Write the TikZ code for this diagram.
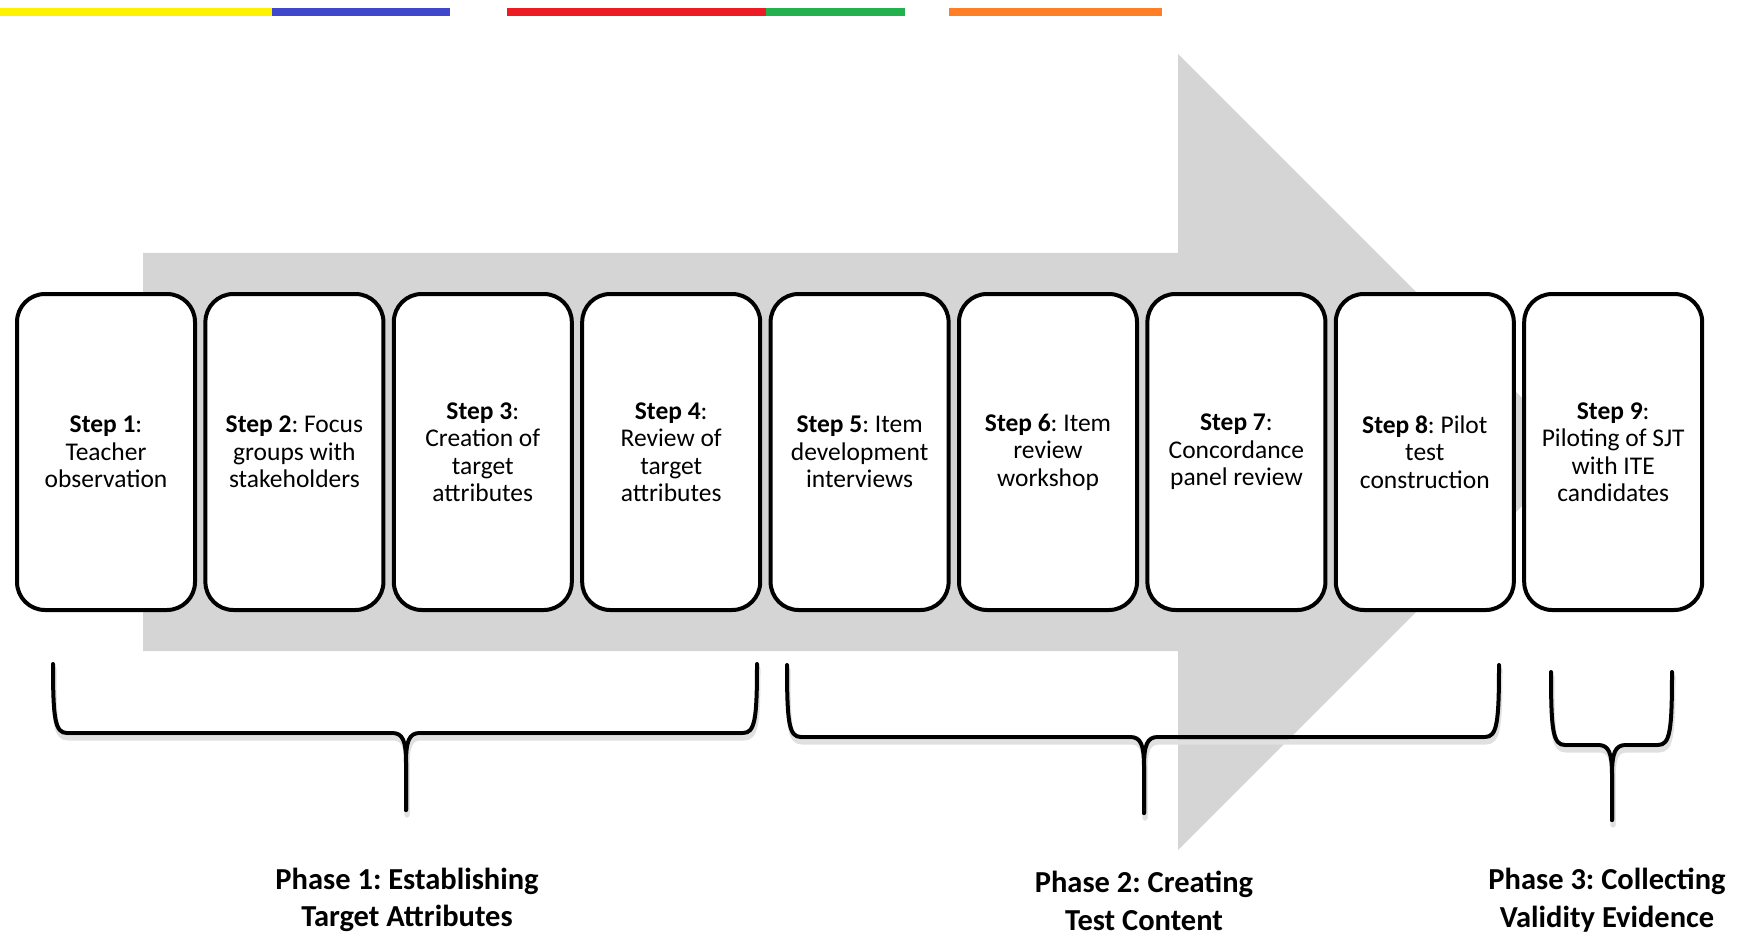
\documentclass[tikz,border=0pt]{standalone}
\usepackage{fontspec}
\setmainfont{Carlito}
\frenchspacing
\definecolor{cyel}{HTML}{FFF200}
\definecolor{cblue}{HTML}{3F48CC}
\definecolor{cred}{HTML}{ED1C24}
\definecolor{cgreen}{HTML}{22B14C}
\definecolor{corange}{HTML}{FF7F27}
\definecolor{arrowgray}{HTML}{D5D5D5}
\tikzset{
  stepbox/.style={draw=black, line width=4pt, fill=white, rounded corners=28pt,
    minimum width=178pt, minimum height=316pt, align=center, inner sep=0pt,
    font=\fontsize{25.5}{27.5}\selectfont},
  bracepath/.style={line width=4pt, line cap=round, line join=round},
  braceshadow/.style={line width=5pt, draw=black!12, line cap=round},
  phaselabel/.style={font=\bfseries\fontsize{30.5}{37.5}\selectfont, align=center, inner sep=0pt},
}
\newcommand{\bracedraw}[7]{% xL xR yT yH yP xC style
  \draw[#7] (#1,#3) .. controls (#1,#4-14) and (#1+2,#4) .. (#1+14,#4)
    -- (#6-14,#4) .. controls (#6-3,#4) and (#6,#4+8) .. (#6,#4+30) -- (#6,#5);
  \draw[#7] (#2,#3) .. controls (#2,#4-14) and (#2-2,#4) .. (#2-14,#4)
    -- (#6+14,#4) .. controls (#6+3,#4) and (#6,#4+8) .. (#6,#4+30) -- (#6,#5);
}
\begin{document}
\begin{tikzpicture}[x=1pt,y=-1pt]
\useasboundingbox (0,0) rectangle (1741,936);
% colour bars
\fill[cyel] (0,8) rectangle (272,16);
\fill[cblue] (272,8) rectangle (450,16);
\fill[cred] (507,8) rectangle (766,16);
\fill[cgreen] (766,8) rectangle (905,16);
\fill[corange] (949,8) rectangle (1162,16);
% big arrow
\fill[arrowgray] (143,253) -- (1178,253) -- (1178,54) -- (1576,452) -- (1178,850) -- (1178,651) -- (143,651) -- cycle;
% boxes
\node[stepbox] (s1) at (106,452) {\textbf{Step 1}:\\Teacher\\observation};
\node[stepbox] (s2) at (294.4,452) {\textbf{Step 2}: Focus\\groups with\\stakeholders};
\node[stepbox] (s3) at (482.8,452) {\textbf{Step 3}:\\Creation of\\target\\attributes};
\node[stepbox] (s4) at (671.2,452) {\textbf{Step 4}:\\Review of\\target\\attributes};
\node[stepbox] (s5) at (859.6,452) {\textbf{Step 5}: Item\\development\\interviews};
\node[stepbox] (s6) at (1048,452) {\textbf{Step 6}: Item\\review\\workshop};
\node[stepbox] (s7) at (1236.4,452) {\textbf{Step 7}:\\Concordance\\panel review};
\node[stepbox] (s8) at (1424.8,452) {\textbf{Step 8}: Pilot\\test\\construction};
\node[stepbox] (s9) at (1613.2,452) {\textbf{Step 9}:\\Piloting of SJT\\with ITE\\candidates};
% brace shadows
\begin{scope}[shift={(1,5)}]
\bracedraw{53}{757}{664}{733}{810}{406}{braceshadow}
\bracedraw{787}{1499}{665}{737}{813}{1144}{braceshadow}
\bracedraw{1551}{1672}{672}{745}{820}{1612}{braceshadow}
\end{scope}
% braces
\bracedraw{53}{757}{664}{733}{810}{406}{bracepath}
\bracedraw{787}{1499}{665}{737}{813}{1144}{bracepath}
\bracedraw{1551}{1672}{672}{745}{820}{1612}{bracepath}
% phase labels
\node[phaselabel] (p1) at (407,900) {Phase 1: Establishing\\Target Attributes};
\node[phaselabel] (p2) at (1144,901) {Phase 2: Creating\\Test Content};
\node[phaselabel] (p3) at (1607,900) {Phase 3: Collecting\\Validity Evidence};
\end{tikzpicture}
\end{document}
